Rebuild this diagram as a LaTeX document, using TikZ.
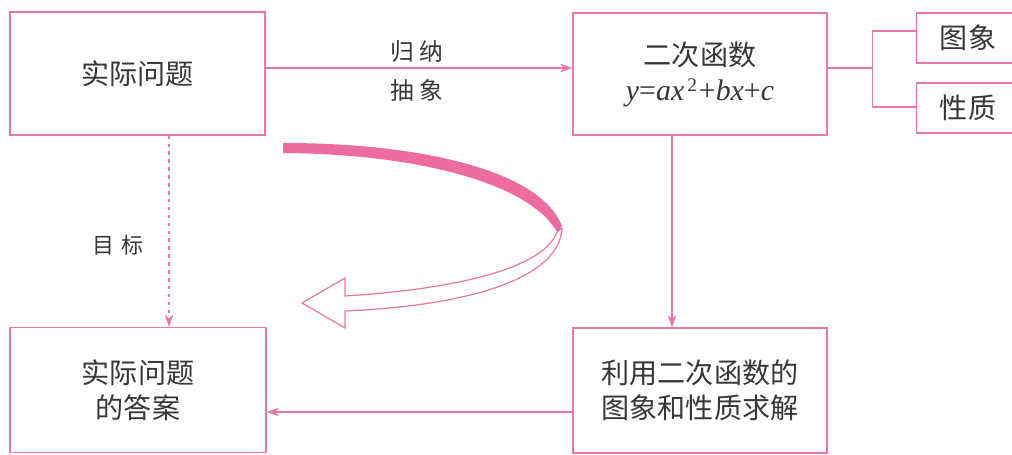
\documentclass[tikz,border=0pt]{standalone}
\usepackage{fontspec}
\newfontfamily\cjk{Noto Sans CJK SC}
\newfontfamily\tms{Liberation Serif}
\usetikzlibrary{arrows.meta}
\definecolor{pinkline}{RGB}{232,120,168}
\definecolor{pinkband}{RGB}{236,108,162}
\definecolor{txt}{RGB}{55,55,55}
\tikzset{
  box/.style={draw=pinkline, line width=0.8pt, inner sep=0pt, align=center,
    text=txt, font=\cjk\fontsize{16pt}{21pt}\selectfont},
  conn/.style={draw=pinkline, line width=0.6pt, -{Stealth[length=7pt,width=5pt]}},
  lbl/.style={text=txt, font=\cjk\fontsize{13.5pt}{16pt}\selectfont, inner sep=0pt}
}
\begin{document}
\begin{tikzpicture}[x=0.02cm,y=-0.02cm]
\clip (0,0) rectangle (1012,455);
\fill[white] (0,0) rectangle (1012,455);
% boxes
\node[box, minimum width=5.1cm, minimum height=2.46cm] (b1) at (137.5,73.5) {实际问题};
\node[box, minimum width=5.08cm, minimum height=2.44cm] (b2) at (700,74)
  {二次函数\\[-1pt]{\tms\fontsize{17pt}{20pt}\selectfont\textit{y}=\textit{ax}\raisebox{0.3em}{\fontsize{11pt}{12pt}\selectfont\,2}\hspace{1pt}+\textit{bx}+\textit{c}}};
\node[box, minimum width=5.12cm, minimum height=2.5cm] (b3) at (138,390) {实际问题\\[-1pt]的答案};
\node[box, minimum width=5.08cm, minimum height=2.5cm] (b4) at (700,390.5) {利用二次函数的\\[-1pt]图象和性质求解};
\node[box, minimum width=2.06cm, minimum height=1.0cm] (tx) at (968,38) {图象};
\node[box, minimum width=2.06cm, minimum height=1.0cm] (xz) at (968,108) {性质};
% helper coordinates
\coordinate (yA) at (0,68);
\coordinate (xD) at (169,0);
\coordinate (xE) at (672,0);
\coordinate (yF) at (0,412);
\coordinate (yT) at (0,31);
\coordinate (yX) at (0,107);
% connectors
\draw[conn] (b1.east |- yA) -- (b2.west |- yA);
\draw[conn, dash pattern=on 2pt off 2.5pt] (b1.south -| xD) -- (b3.north -| xD);
\draw[conn] (b2.south -| xE) -- (b4.north -| xE);
\draw[conn] (b4.west |- yF) -- (b3.east |- yF);
% bracket
\draw[pinkline, line width=0.6pt] (b2.east |- yA) -- ++(45,0) coordinate (bj);
\draw[pinkline, line width=0.6pt] (tx.west |- yT) -| (bj) |- (xz.west |- yX);
% labels
\node[lbl] (l1) at (417,52) {归\hspace{3pt}纳};
\node[lbl] (l2) at (417,90) {抽\hspace{3pt}象};
\node[lbl, font=\cjk\fontsize{12.5pt}{15pt}\selectfont] (l3) at (118,245) {目\hspace{4pt}标};
% curved band
\fill[pinkband] (283,143) .. controls (420,143) and (540,170) .. (562,226)
  -- (557,232) .. controls (530,184) and (420,154) .. (283,153) -- cycle;
% outline arrow
\filldraw[fill=white, draw=pinkline, line width=0.7pt, line join=miter]
  (557,232) .. controls (545,265) and (470,288) .. (345,296)
  -- (345,278) -- (302,303) -- (345,328) -- (345,311)
  .. controls (480,305) and (560,275) .. (562,228) -- cycle;
\end{tikzpicture}
\end{document}
